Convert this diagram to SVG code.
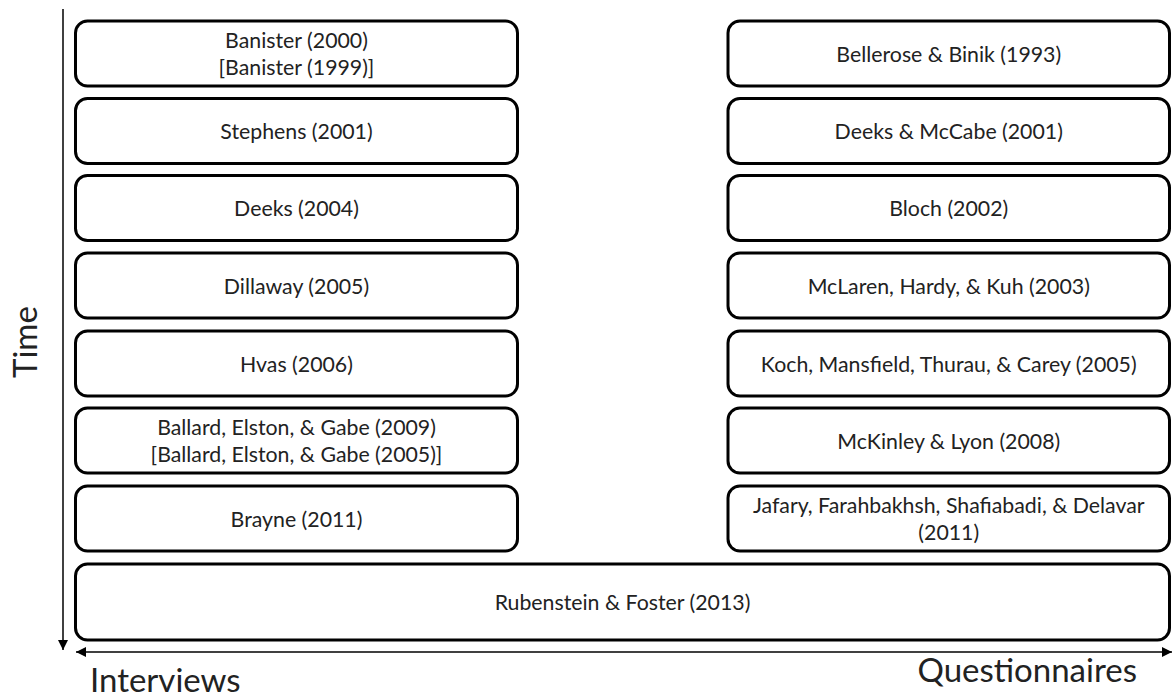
<svg xmlns="http://www.w3.org/2000/svg" width="1174" height="699" viewBox="0 0 1174 699">
<style>
.box{fill:#fff;stroke:#000;stroke-width:3}
.t{font-family:Lato,"Open Sans","DejaVu Sans",sans-serif;font-size:21.3px;fill:#222;text-anchor:middle}
.ax{font-family:Lato,"Open Sans","DejaVu Sans",sans-serif;font-size:33px;fill:#222}
.axis{stroke:#000;stroke-width:1.5;fill:none}
</style>
<defs>
<marker id="ah" viewBox="0 0 10 10" refX="10" refY="5" markerWidth="10" markerHeight="10" markerUnits="userSpaceOnUse" orient="auto-start-reverse">
<path d="M0,0 L10,5 L0,10 Z" fill="#000"/>
</marker>
</defs>
<rect width="1174" height="699" fill="#fff"/>
<g id="connectors">
<line class="axis" x1="63" y1="9" x2="63" y2="650" marker-end="url(#ah)"/>
<line class="axis" x1="76" y1="652" x2="1172" y2="652" marker-start="url(#ah)" marker-end="url(#ah)"/>
</g>
<g id="axis-labels">
<text class="ax" transform="translate(37,342) rotate(-90)" text-anchor="middle">Time</text>
<text class="ax" x="90" y="692">Interviews</text>
<text class="ax" x="1137" y="682" text-anchor="end">Questionnaires</text>
</g>
<g id="banister"><rect class="box" x="75.5" y="21" width="442" height="65" rx="12"/><text class="t" x="296.5" y="48">Banister (2000)</text><text class="t" x="296.5" y="75">[Banister (1999)]</text></g>
<g id="stephens"><rect class="box" x="75.5" y="98.5" width="442" height="65" rx="12"/><text class="t" x="296.5" y="139">Stephens (2001)</text></g>
<g id="deeks"><rect class="box" x="75.5" y="175.5" width="442" height="65" rx="12"/><text class="t" x="296.5" y="216">Deeks (2004)</text></g>
<g id="dillaway"><rect class="box" x="75.5" y="253" width="442" height="65" rx="12"/><text class="t" x="296.5" y="293.5">Dillaway (2005)</text></g>
<g id="hvas"><rect class="box" x="75.5" y="331" width="442" height="65" rx="12"/><text class="t" x="296.5" y="371.5">Hvas (2006)</text></g>
<g id="ballard"><rect class="box" x="75.5" y="408" width="442" height="65" rx="12"/><text class="t" x="296.5" y="435">Ballard, Elston, &amp; Gabe (2009)</text><text class="t" x="296.5" y="462">[Ballard, Elston, &amp; Gabe (2005)]</text></g>
<g id="brayne"><rect class="box" x="75.5" y="486" width="442" height="65" rx="12"/><text class="t" x="296.5" y="526.5">Brayne (2011)</text></g>
<g id="bellerose"><rect class="box" x="728" y="21" width="441.5" height="65" rx="12"/><text class="t" x="948.75" y="61.5">Bellerose &amp; Binik (1993)</text></g>
<g id="deeks-mccabe"><rect class="box" x="728" y="98.5" width="441.5" height="65" rx="12"/><text class="t" x="948.75" y="139">Deeks &amp; McCabe (2001)</text></g>
<g id="bloch"><rect class="box" x="728" y="175.5" width="441.5" height="65" rx="12"/><text class="t" x="948.75" y="216">Bloch (2002)</text></g>
<g id="mclaren"><rect class="box" x="728" y="253" width="441.5" height="65" rx="12"/><text class="t" x="948.75" y="293.5">McLaren, Hardy, &amp; Kuh (2003)</text></g>
<g id="koch"><rect class="box" x="728" y="331" width="441.5" height="65" rx="12"/><text class="t" x="948.75" y="371.5">Koch, Mansfield, Thurau, &amp; Carey (2005)</text></g>
<g id="mckinley"><rect class="box" x="728" y="408" width="441.5" height="65" rx="12"/><text class="t" x="948.75" y="448.5">McKinley &amp; Lyon (2008)</text></g>
<g id="jafary"><rect class="box" x="728" y="486" width="441.5" height="65" rx="12"/><text class="t" x="948.75" y="513">Jafary, Farahbakhsh, Shafiabadi, &amp; Delavar</text><text class="t" x="948.75" y="540">(2011)</text></g>
<g id="rubenstein"><rect class="box" x="75.5" y="564" width="1094" height="76" rx="12"/><text class="t" x="622.5" y="610">Rubenstein &amp; Foster (2013)</text></g>
</svg>
